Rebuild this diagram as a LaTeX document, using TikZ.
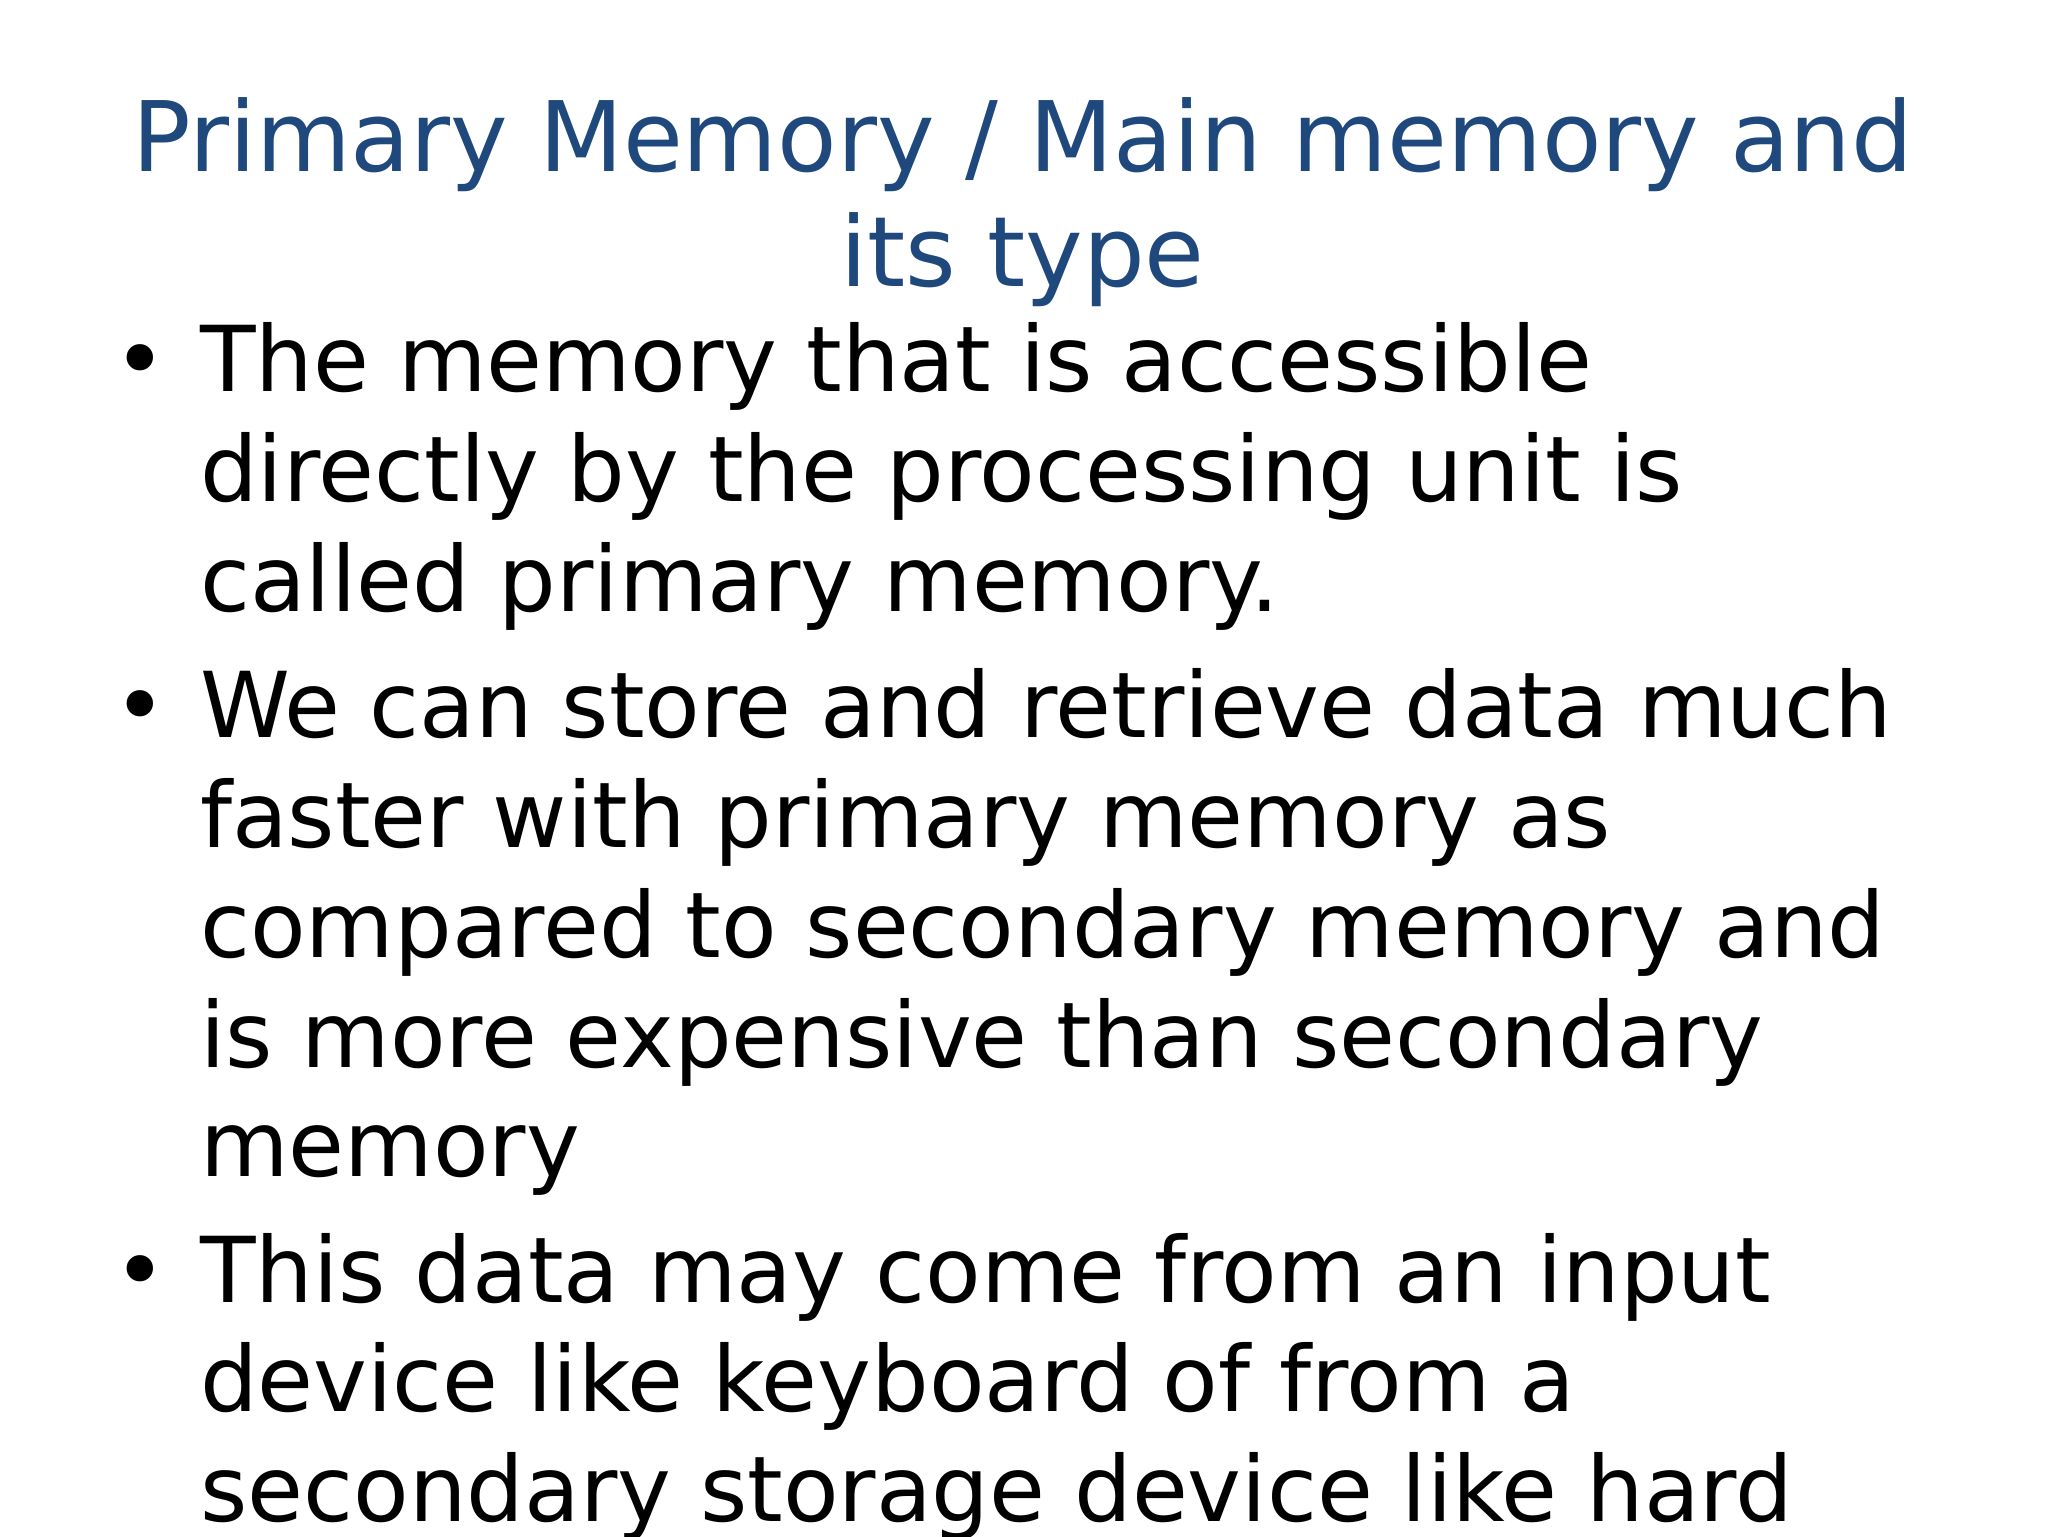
\documentclass[tikz,border=0pt]{standalone}
\usepackage{fontspec}
\setmainfont{DejaVu Sans}
\definecolor{titleblue}{RGB}{31,73,125}
\begin{document}
\begin{tikzpicture}[x=1pt,y=-1pt,
  ttl/.style={anchor=base,text=titleblue,font=\fontsize{74.5}{87}\selectfont,inner sep=0},
  bl/.style={anchor=base west,font=\fontsize{69.6}{84}\selectfont,inner sep=0},
  dot/.style={anchor=base west,font=\fontsize{69.6}{84}\selectfont,inner sep=0}]
\useasboundingbox[fill=white] (0,0) rectangle (1568,1176);
\clip (0,0) rectangle (1568,1176);
\node[ttl] (t1) at (783,131) {Primary Memory / Main memory and};
\node[ttl] (t2) at (783,219) {its type};
\node[dot] (b1) at (87,300) {•};
\node[bl] (l1) at (153,300) {The memory that is accessible};
\node[bl] (l2) at (153,384) {directly by the processing unit is};
\node[bl] (l3) at (153,468) {called primary memory.};
\node[dot] (b2) at (87,565) {•};
\node[bl] (l4) at (153,565) {We can store and retrieve data much};
\node[bl] (l5) at (153,649) {faster with primary memory as};
\node[bl] (l6) at (153,733) {compared to secondary memory and};
\node[bl] (l7) at (153,817) {is more expensive than secondary};
\node[bl] (l8) at (153,901) {memory};
\node[dot] (b3) at (87,997) {•};
\node[bl] (l9) at (153,997) {This data may come from an input};
\node[bl] (l10) at (153,1081) {device like keyboard of from a};
\node[bl] (l11) at (153,1165) {secondary storage device like hard};
\end{tikzpicture}
\end{document}
